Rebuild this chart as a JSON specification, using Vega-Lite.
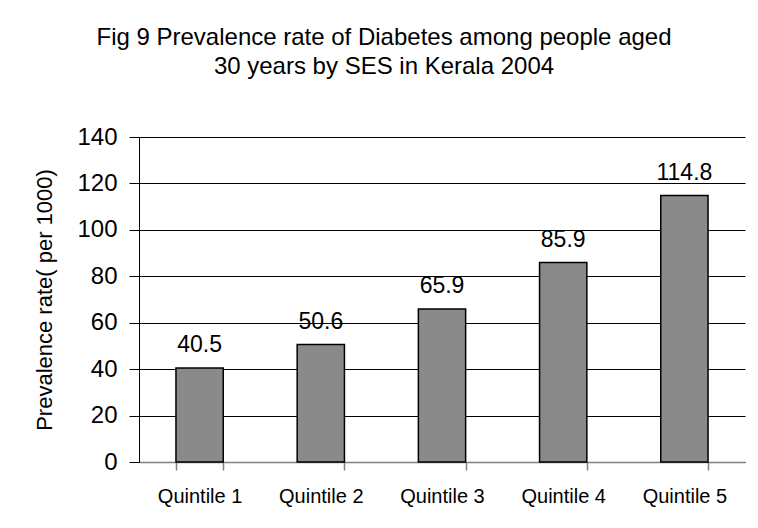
{
  "$schema": "https://vega.github.io/schema/vega-lite/v6.json",
  "width": 606,
  "height": 325,
  "autosize": {"type": "none"},
  "padding": {"left": 139, "top": 137, "right": 13, "bottom": 66},
  "background": "white",
  "title": {
    "text": ["Fig 9 Prevalence rate of Diabetes among people aged", "30 years by SES in Kerala 2004"],
    "anchor": "middle",
    "dx": -58,
    "fontSize": 24,
    "fontWeight": "normal",
    "font": "Liberation Sans",
    "color": "black",
    "lineHeight": 29,
    "offset": 46
  },
  "data": {
    "values": [
      {"quintile": "Quintile 1", "rate": 40.5},
      {"quintile": "Quintile 2", "rate": 50.6},
      {"quintile": "Quintile 3", "rate": 65.9},
      {"quintile": "Quintile 4", "rate": 85.9},
      {"quintile": "Quintile 5", "rate": 114.8}
    ]
  },
  "encoding": {
    "x": {
      "field": "quintile",
      "type": "nominal",
      "sort": null,
      "scale": {"paddingInner": 0.61, "paddingOuter": 0.305},
      "axis": {
        "title": null,
        "labelAngle": 0,
        "labelFontSize": 20,
        "labelFont": "Liberation Sans",
        "labelColor": "black",
        "labelPadding": 16,
        "domainColor": "#808080",
        "domainWidth": 1.5,
        "tickColor": "#808080",
        "tickWidth": 1.5,
        "tickSize": 8,
        "tickBand": "extent",
        "grid": false
      }
    },
    "y": {
      "field": "rate",
      "type": "quantitative",
      "scale": {"domain": [0, 140], "nice": false},
      "axis": {
        "title": "Prevalence rate( per 1000)",
        "titleFontSize": 22,
        "titleFontWeight": "normal",
        "titleFont": "Liberation Sans",
        "titleColor": "black",
        "titlePadding": 20,
        "values": [0, 20, 40, 60, 80, 100, 120, 140],
        "labelFontSize": 24,
        "labelFont": "Liberation Sans",
        "labelColor": "black",
        "labelPadding": 12,
        "domainColor": "black",
        "domainWidth": 1,
        "tickColor": "black",
        "tickSize": 10,
        "grid": true,
        "gridColor": "black",
        "gridWidth": 1,
        "gridOpacity": 1
      }
    }
  },
  "layer": [
    {
      "mark": {"type": "bar", "fill": "#8a8a8a", "stroke": "black", "strokeWidth": 1.5}
    },
    {
      "mark": {"type": "text", "baseline": "alphabetic", "dy": -16, "fontSize": 23, "font": "Liberation Sans", "color": "black"},
      "encoding": {"text": {"field": "rate", "type": "quantitative", "format": ".1f"}}
    }
  ],
  "config": {
    "view": {"stroke": null},
    "font": "Liberation Sans"
  }
}
